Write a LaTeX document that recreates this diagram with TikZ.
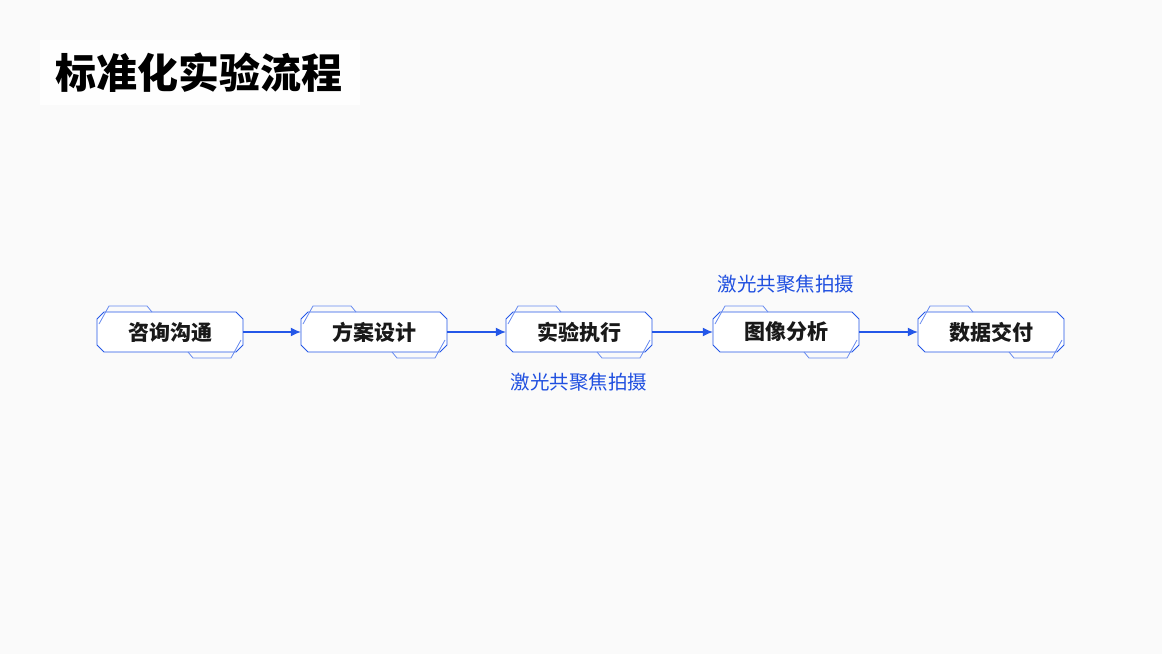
\documentclass[tikz,border=0pt]{standalone}
\usepackage{fontspec}
\setmainfont{Noto Sans CJK SC}
\newfontfamily\medium{Noto Sans CJK SC Medium}
\usetikzlibrary{arrows.meta}
\definecolor{bl}{HTML}{2457E8}
\definecolor{lbl}{HTML}{1F4FE0}
\tikzset{
 box/.style={draw=bl,line width=0.9pt,fill=white},
 deco/.style={draw=bl!70,line width=0.8pt},
 txt/.style={font=\fontsize{21}{24}\selectfont\bfseries,text=black!90},
 lab/.style={font=\fontsize{19.5}{22}\selectfont,text=lbl},
 arr/.style={draw=bl,line width=1.2pt,-{Latex[length=10pt,width=9pt]}}
}
\newcommand{\stepnode}[3]{%
 \begin{scope}[shift={(#1,332)}]
  \draw[box] (-73,-13)--(-66,-20)--(66,-20)--(73,-13)--(73,13)--(66,20)--(-66,20)--(-73,13)--cycle;
  \draw[deco] (-71,-8)--(-61,-26)--(-23,-26)--(-18,-20);
  \draw[deco] (71,8)--(61,26)--(23,26)--(18,20);
  \node[txt,minimum width=146pt,minimum height=40pt] (#2) at (0,0) {#3};
 \end{scope}}
\begin{document}
\begin{tikzpicture}[x=1pt,y=-1pt]
\fill[white!96!gray] (0,0) rectangle (1162,654);
\fill[white!99!gray] (40,40) rectangle (360,105);
\node[anchor=west,font=\fontsize{41}{44}\selectfont\bfseries] (title) at (52,73) {标准化实验流程};
\stepnode{170}{a}{咨询沟通}
\stepnode{374}{b}{方案设计}
\stepnode{579}{c}{实验执行}
\stepnode{786}{d}{图像分析}
\stepnode{991}{e}{数据交付}
\draw[arr] (a.east)--(b.west);
\draw[arr] (b.east)--(c.west);
\draw[arr] (c.east)--(d.west);
\draw[arr] (d.east)--(e.west);
\node[lab] (l1) at (579,382) {激光共聚焦拍摄};
\node[lab] (l2) at (786,284) {激光共聚焦拍摄};
\end{tikzpicture}
\end{document}
